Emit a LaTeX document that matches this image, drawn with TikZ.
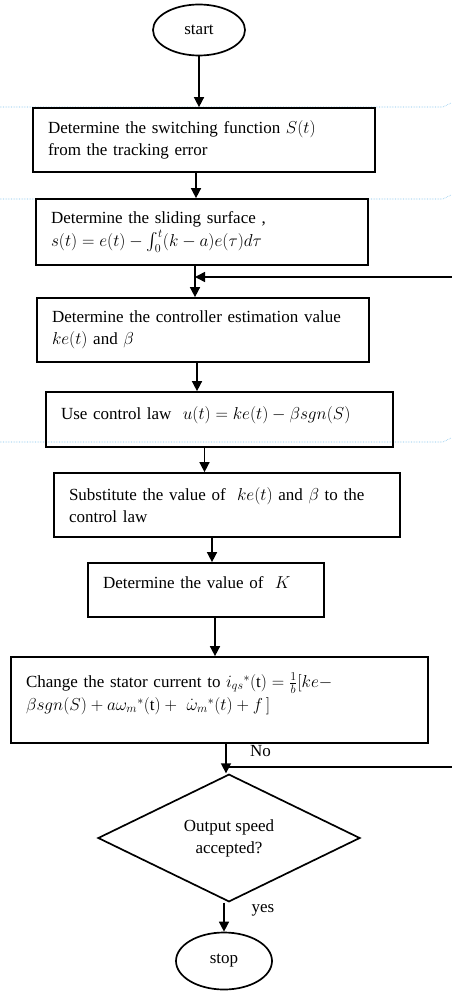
\documentclass[tikz,border=0pt]{standalone}
\usepackage{fontspec}
\setmainfont{Liberation Serif}
\usepackage{amsmath}
\definecolor{guideblue}{RGB}{120,190,235}
\usetikzlibrary{arrows.meta,positioning,shapes.geometric,calc}

\begin{document}
\begin{tikzpicture}[
  x=1pt,y=-1pt,
  every node/.style={font=\fontsize{17}{22}\selectfont},
  procbox/.style={draw,line width=1.7pt,align=left,inner xsep=15pt,inner ysep=2pt},
  termnode/.style={draw,ellipse,line width=1.7pt,inner sep=0pt},
  decnode/.style={draw,diamond,line width=1.7pt,align=center,inner sep=0pt},
  arr/.style={-{Triangle[length=10pt,width=10pt]},line width=1.5pt},
  guide/.style={guideblue,densely dotted,line width=0.6pt},
]
  \useasboundingbox (0,0) rectangle (451,992);

  % page guides
  \draw[guide] (0,107) -- (443,107) -- (451,103);
  \draw[guide] (0,199) -- (443,199) -- (451,195);
  \draw[guide] (0,442) -- (443,442) -- (451,438);

  % Start
  \node[termnode,minimum width=92pt,minimum height=51pt] (start) at (199,30) {start};

  % Steps
  \node[procbox,text width=312pt,minimum height=64pt] (b1) at (204,140) {%
    Determine the switching function $S(t)$\\
    from the tracking error
  };
  \node[procbox,text width=302pt,minimum height=66pt] (b2) at (202,232) {%
    Determine the sliding surface ,\\[1pt]
    $s(t) = e(t) - \int_{0}^{t}(k-a)e(\tau)d\tau$
  };
  \node[procbox,text width=302pt,minimum height=64pt] (b3) at (203,330) {%
    Determine the controller estimation value\\
    $ke(t)$ and $\beta$
  };
  \node[procbox,text width=317pt,minimum height=55pt,text depth=12pt] (b4) at (219.5,419.5) {%
    Use control law\ \ $u(t) = ke(t) - \beta sgn(S)$
  };
  \node[procbox,text width=316pt,minimum height=64pt] (b5) at (227,505) {%
    Substitute the value of\ \ $ke(t)$ and $\beta$ to the\\
    control law
  };
  \node[procbox,text width=206pt,minimum height=54pt,text depth=14pt] (b6) at (206,590) {%
    Determine the value of\ \ $K$
  };
  \node[procbox,text width=387pt,minimum height=86pt,text depth=40pt] (b7) at (219.5,700) {%
    Change the stator current to $i_{qs}{}^{*}(\mathrm{t}) = \tfrac{1}{b}[ke -$\\[1pt]
    $\beta sgn(S) + a\omega_{m}{}^{*}(\mathrm{t}) +\ \dot{\omega}_{m}{}^{*}(t) + f\,]$
  };

  % Decision and stop
  \node[decnode,minimum width=262pt,minimum height=117pt] (dec) at (229,838) {Output speed\\accepted?};
  \node[termnode,minimum width=96pt,minimum height=57pt] (stop) at (224,961) {stop};

  % Arrows
  \draw[arr] (start.south) -- (start.south |- b1.north);
  \draw[arr] ([xshift=-8pt]b1.south) -- ([xshift=-8pt]b1.south |- b2.north);
  \draw[arr] ([xshift=-7pt]b2.south) -- ([xshift=-7pt]b2.south |- b3.north);
  \draw[arr] ([xshift=-6pt]b3.south) -- ([xshift=-6pt]b3.south |- b4.north);
  \draw[arr] ([xshift=-15pt]b4.south) -- ([xshift=-15pt]b4.south |- b5.north);
  \draw[arr] ([xshift=-15pt]b5.south) -- ([xshift=-15pt]b5.south |- b6.north);
  \draw[arr] ([xshift=9pt]b6.south) -- ([xshift=9pt]b6.south |- b7.north);
  \draw[arr] ([xshift=6.5pt]b7.south) -- ([xshift=6.5pt]b7.south |- dec.north);
  \draw[arr] ([xshift=-5pt]dec.south) -- ([xshift=-5pt]dec.south |- stop.north);

  % Loop back
  \coordinate (nojoin) at ([xshift=6.5pt]b7.south |- 0,767);
  \coordinate (back) at ([xshift=-7pt]b2.south |- 0,277);
  \draw[arr] (nojoin) -- (462,767) -- (462,277) -- (back);
  \node[anchor=west,inner sep=1pt] (no) at (249,751) {No};
  \node[anchor=west] (yes) at (248,910) {yes};
\end{tikzpicture}
\end{document}
